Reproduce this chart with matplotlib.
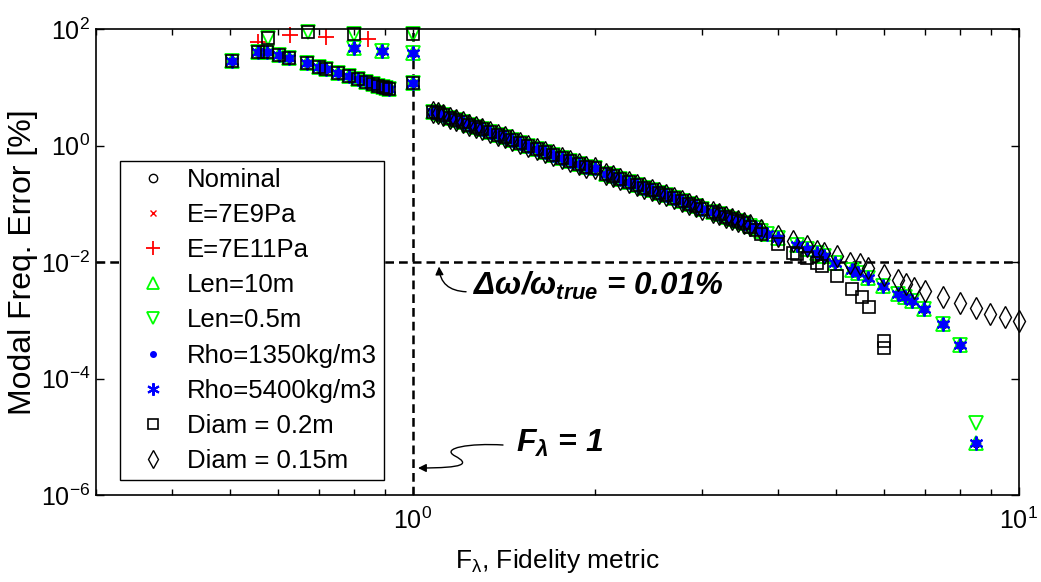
import numpy as np
import matplotlib
matplotlib.use("Agg")
import matplotlib.pyplot as plt
from matplotlib.path import Path
from matplotlib.patches import FancyArrowPatch
from matplotlib.ticker import NullFormatter, NullLocator, FixedLocator, LogLocator

plt.rcParams['font.family'] = ['Liberation Sans', 'DejaVu Sans']
plt.rcParams['mathtext.fontset'] = 'custom'
plt.rcParams['mathtext.rm'] = 'Liberation Sans:italic:bold'
plt.rcParams['mathtext.it'] = 'Liberation Sans:italic:bold'
plt.rcParams['mathtext.bf'] = 'Liberation Sans:italic:bold'

# ---- data ----
# F < 1 branch (shared by most cases)
left_x = [0.503, 0.556, 0.575, 0.601, 0.624, 0.669, 0.700, 0.719, 0.752, 0.785,
          0.812, 0.837, 0.859, 0.876, 0.892, 0.903, 0.913, 1.0]
left_y = [28.4, 40.0, 40.0, 35.7, 31.7, 26.3, 22.6, 20.7, 17.8, 15.4,
          13.7, 12.4, 11.4, 10.7, 10.0, 9.6, 9.27, 11.9]

# extra points near the top (stars)
star_x = [0.80, 0.889, 1.0]
star_y = [47.0, 41.8, 38.6]

# top squares (Diam=0.2m, Len=0.5m)
sqtop_x = [0.577, 0.671, 0.80, 1.0]
sqtop_y = [70.0, 90.0, 82.0, 82.0]

# E=7E11Pa visible points
e11_x = [0.556, 0.627, 0.719, 0.843]
e11_y = [60.0, 79.0, 72.0, 67.0]

# common F > 1 band
band_x = [1.08, 1.10, 1.12, 1.15, 1.18, 1.21, 1.24, 1.27, 1.30, 1.34, 1.38, 1.42,
          1.46, 1.50, 1.55, 1.60, 1.65, 1.70, 1.76, 1.82, 1.88, 1.93, 2.00, 2.08,
          2.14, 2.20, 2.27, 2.34, 2.41, 2.48, 2.55, 2.62, 2.70, 2.78, 2.86, 2.93,
          3.00, 3.13, 3.20, 3.28, 3.36, 3.44, 3.52]
band_y = [3.80, 3.57, 3.33, 3.02, 2.75, 2.50, 2.28, 2.09, 1.91, 1.71, 1.53, 1.38,
          1.24, 1.12, 0.99, 0.88, 0.79, 0.70, 0.62, 0.545, 0.483, 0.438, 0.41, 0.331,
          0.298, 0.269, 0.239, 0.214, 0.191, 0.172, 0.155, 0.140, 0.125, 0.112, 0.101, 0.092,
          0.082, 0.072, 0.0665, 0.0606, 0.0554, 0.0508, 0.0466]

# tails
nom_tail_x = [3.60, 3.68, 3.76, 3.84, 4.01, 4.30, 4.47, 4.65, 4.76, 4.98, 5.31, 5.43,
              5.64, 5.97, 6.32, 6.49, 6.67, 6.98, 7.49, 7.99]
nom_tail_y = [0.042, 0.038, 0.034, 0.031, 0.026, 0.020, 0.017, 0.0145, 0.0129, 0.0098,
              0.0074, 0.0066, 0.0054, 0.0039, 0.0029, 0.0025, 0.0022, 0.0016, 0.00087, 0.00038]
nom_last = (8.51, 7.9e-6)
len05_last = (8.51, 1.74e-5)

sq_tail_x = [3.60, 3.68, 3.76, 4.01, 4.24, 4.31, 4.47, 4.65, 4.73, 5.01, 5.31, 5.51,
             5.66, 5.99, 5.99]
sq_tail_y = [0.040, 0.035, 0.031, 0.0207, 0.0145, 0.014, 0.012, 0.0098, 0.0087, 0.0059,
             0.0035, 0.0025, 0.0017, 0.00045, 0.00034]

dia_tail_x = [3.60, 3.76, 4.01, 4.24, 4.47, 4.65, 4.76, 5.01, 5.27, 5.47, 5.64, 5.99,
              6.32, 6.52, 6.70, 6.99, 7.49, 7.99, 8.50, 8.97, 9.50, 10.0]
dia_tail_y = [0.043, 0.036, 0.028, 0.023, 0.019, 0.0158, 0.0145, 0.0129, 0.0098, 0.0094,
              0.0078, 0.006, 0.005, 0.0043, 0.0036, 0.0032, 0.0025, 0.002, 0.00166, 0.0013,
              0.00114, 0.00098]

# ---- assemble series ----
nom_x = left_x + star_x + band_x + nom_tail_x + [nom_last[0]]
nom_y = left_y + star_y + band_y + nom_tail_y + [nom_last[1]]
l05_x = left_x + star_x + sqtop_x + band_x + nom_tail_x + [len05_last[0]]
l05_y = left_y + star_y + sqtop_y + band_y + nom_tail_y + [len05_last[1]]
d02_x = left_x + sqtop_x + band_x + sq_tail_x
d02_y = left_y + sqtop_y + band_y + sq_tail_y
d015_x = band_x + dia_tail_x
d015_y = band_y + dia_tail_y

GREEN = (0, 1, 0)
BLUE = (0, 0, 1)
RED = (1, 0, 0)

# (label, x, y, style, legend marker size)
series = [
    ("Nominal", nom_x, nom_y, dict(marker='o', ms=6, mfc='none', mec='k', mew=1.0), 6),
    ("E=7E9Pa", nom_x, nom_y, dict(marker='x', ms=5, mec=RED, mew=1.0), 5),
    ("E=7E11Pa", e11_x, e11_y, dict(marker='+', ms=12, mec=RED, mew=1.3), 10),
    ("Len=10m", nom_x, nom_y, dict(marker='^', ms=10, mfc='none', mec=GREEN, mew=1.3), 9),
    ("Len=0.5m", l05_x, l05_y, dict(marker='v', ms=10, mfc='none', mec=GREEN, mew=1.3), 9),
    ("Rho=1350kg/m3", nom_x, nom_y, dict(marker='.', ms=10, mfc=BLUE, mec=BLUE), 8),
    ("Rho=5400kg/m3", nom_x, nom_y, dict(marker=(6, 2, 0), ms=10, mec=BLUE, mew=1.5), 9),
    ("Diam = 0.2m", d02_x, d02_y, dict(marker='s', ms=9, mfc='none', mec='k', mew=1.2), 7),
    ("Diam = 0.15m", d015_x, d015_y, dict(marker='d', ms=11, mfc='none', mec='k', mew=1.0), 9),
]

fig = plt.figure(figsize=(10.41, 5.82), dpi=100)
ax = fig.add_axes([0.0922, 0.149, 0.8866, 0.801])

ax.axvline(1.0, color='k', lw=1.8, ls=(0, (3.5, 2)), zorder=1)
ax.axhline(1e-2, color='k', lw=1.8, ls=(0, (3.5, 2)), zorder=1)

for label, x, y, st, lms in series:
    ax.plot(x, y, ls='none', label=label, zorder=2, clip_on=False, **st)

ax.set_xscale('log')
ax.set_yscale('log')
ax.set_xlim(0.3, 10)
ax.set_ylim(1e-6, 1e2)

ax.yaxis.set_major_locator(FixedLocator([1e-6, 1e-4, 1e-2, 1e0, 1e2]))
ax.yaxis.set_minor_locator(NullLocator())
ax.xaxis.set_major_locator(FixedLocator([1e0, 1e1]))
ax.xaxis.set_minor_locator(LogLocator(base=10, subs=np.arange(2, 10)))
ax.xaxis.set_minor_formatter(NullFormatter())
ax.tick_params(which='both', direction='in', top=True, right=True, labelsize=18)
ax.tick_params(which='major', length=6, width=1.0)
ax.tick_params(axis='x', which='major', pad=9)
ax.tick_params(axis='y', which='major', pad=4)
ax.tick_params(which='minor', length=4, width=1.0)
for sp in ax.spines.values():
    sp.set_linewidth(1.2)

ax.set_xlabel("F$_{\\mathdefault{\u03bb}}$, Fidelity metric", fontsize=19, labelpad=9)
ax.set_ylabel("Modal Freq. Error [%]", fontsize=23)
ax.yaxis.set_label_coords(-0.063, 0.5)

leg = ax.legend(loc='lower left', bbox_to_anchor=(0.026, 0.032), borderaxespad=0,
                fontsize=18.5, frameon=True, fancybox=False, edgecolor='k',
                framealpha=1, handlelength=2.0, handletextpad=0.3, labelspacing=0.43,
                borderpad=0.3)
leg.get_frame().set_linewidth(1.0)
leg.set_zorder(5)
for h, s in zip(leg.legend_handles, series):
    h.set_markersize(s[4])

# annotations
ax.text(1.256, 0.0039, "$\\Delta\\omega/\\omega_{true}$ = 0.01%", fontsize=22.5,
        fontweight='bold', fontstyle='italic', va='center', ha='left')
ax.annotate("", xy=(1.104, 0.0094), xytext=(1.237, 0.0031),
            arrowprops=dict(arrowstyle='-|>', color='k', lw=1.0,
                            mutation_scale=12,
                            connectionstyle="angle3,angleA=0,angleB=90"))

ax.text(1.478, 7.8e-6, "$F_{\\lambda}$ = 1", fontsize=23,
        fontweight='bold', fontstyle='italic', va='center', ha='left')


def px(xp, yp):
    return (xp / 1041.0, 1 - yp / 582.0)


s_path = Path([px(503, 445), px(470, 443), px(440, 448), px(455, 456),
               px(470, 464), px(465, 468), px(418, 468)],
              [Path.MOVETO, Path.CURVE4, Path.CURVE4, Path.CURVE4,
               Path.CURVE4, Path.CURVE4, Path.CURVE4])
arr = FancyArrowPatch(path=s_path, arrowstyle='-|>', mutation_scale=12, color='k',
                      lw=1.0, transform=fig.transFigure)
fig.patches.append(arr)

fig.savefig("out.png", dpi=100)
